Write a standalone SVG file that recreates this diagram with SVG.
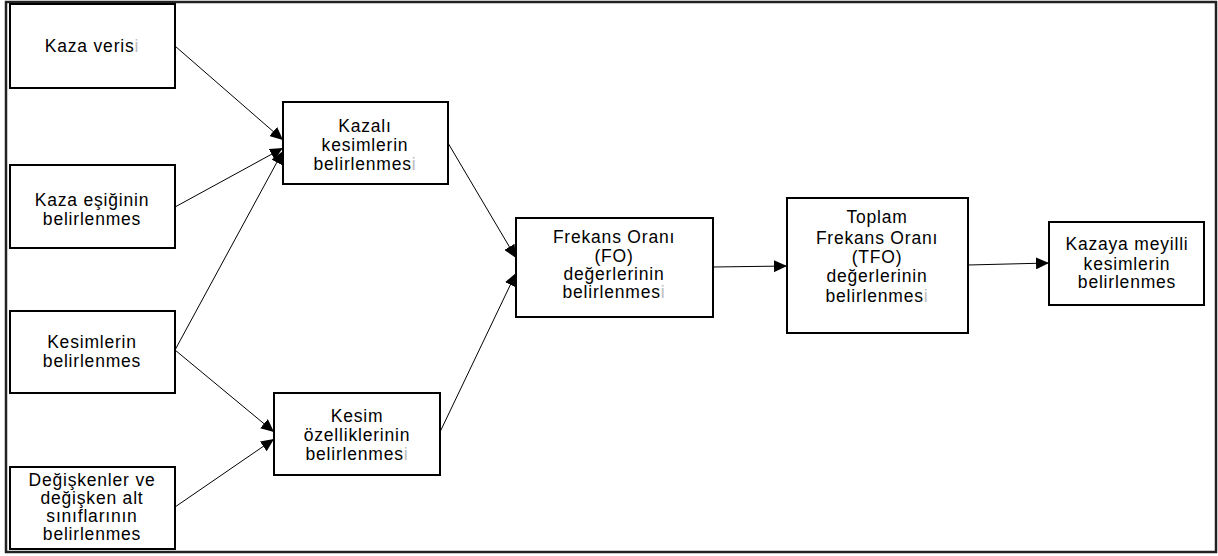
<svg xmlns="http://www.w3.org/2000/svg" width="1218" height="556" viewBox="0 0 1218 556">
<style>
.box{fill:#fff;stroke:#000;stroke-width:2}
.t{font-family:"Liberation Sans",Arial,sans-serif;font-size:17.5px;letter-spacing:0.8px;fill:#000;text-anchor:middle}
.g{fill:#bdbdbd}
.c{stroke:#000;stroke-width:1;fill:none;marker-end:url(#ah)}
</style>
<defs>
<marker id="ah" markerUnits="userSpaceOnUse" markerWidth="14" markerHeight="12" refX="13" refY="6" orient="auto">
<path d="M0,0 L13,6 L0,12 Z" fill="#000"/>
</marker>
</defs>
<rect x="1" y="0" width="1217" height="556" fill="#fff"/>
<rect x="6" y="2" width="1210" height="550" fill="none" stroke="#222" stroke-width="2.5"/>
<g id="connectors">
<line class="c" x1="175" y1="46" x2="283" y2="140"/>
<line class="c" x1="175" y1="207" x2="283" y2="148"/>
<line class="c" x1="175" y1="350" x2="283" y2="151"/>
<line class="c" x1="175" y1="350" x2="274" y2="432"/>
<line class="c" x1="175" y1="507" x2="274" y2="439"/>
<line class="c" x1="448" y1="143" x2="516" y2="258"/>
<line class="c" x1="440" y1="432" x2="516" y2="273"/>
<line class="c" x1="713" y1="267" x2="787" y2="266"/>
<line class="c" x1="968" y1="265" x2="1049" y2="263"/>
</g>
<g id="n1"><rect class="box" x="10" y="4" width="165" height="84"/>
<text class="t" x="92" y="52">Kaza veris<tspan class="g">i</tspan></text></g>
<g id="n2"><rect class="box" x="10" y="165" width="165" height="83"/>
<text class="t" x="92" y="206">Kaza eşiğinin</text><text class="t" x="92" y="225">belirlenmes</text></g>
<g id="n3"><rect class="box" x="10" y="311" width="165" height="82"/>
<text class="t" x="92" y="348">Kesimlerin</text><text class="t" x="92" y="367">belirlenmes</text></g>
<g id="n4"><rect class="box" x="10" y="467" width="165" height="82"/>
<text class="t" x="92" y="486">Değişkenler ve</text><text class="t" x="92" y="504">değişken alt</text><text class="t" x="92" y="522">sınıflarının</text><text class="t" x="92" y="540">belirlenmes</text></g>
<g id="n5"><rect class="box" x="283" y="102" width="165" height="82"/>
<text class="t" x="365" y="132">Kazalı</text><text class="t" x="365" y="151">kesimlerin</text><text class="t" x="365" y="170">belirlenmes<tspan class="g">i</tspan></text></g>
<g id="n6"><rect class="box" x="274" y="393" width="166" height="82"/>
<text class="t" x="357" y="422">Kesim</text><text class="t" x="357" y="441">özelliklerinin</text><text class="t" x="357" y="460">belirlenmes<tspan class="g">i</tspan></text></g>
<g id="n7"><rect class="box" x="516" y="218" width="197" height="99"/>
<text class="t" x="614" y="243">Frekans Oranı</text><text class="t" x="614" y="262">(FO)</text><text class="t" x="614" y="280">değerlerinin</text><text class="t" x="614" y="298">belirlenmes<tspan class="g">i</tspan></text></g>
<g id="n8"><rect class="box" x="787" y="198" width="181" height="135"/>
<text class="t" x="877" y="223">Toplam</text><text class="t" x="877" y="244">Frekans Oranı</text><text class="t" x="877" y="263">(TFO)</text><text class="t" x="877" y="282">değerlerinin</text><text class="t" x="877" y="302">belirlenmes<tspan class="g">i</tspan></text></g>
<g id="n9"><rect class="box" x="1049" y="222" width="155" height="83"/>
<text class="t" x="1127" y="250">Kazaya meyilli</text><text class="t" x="1127" y="270">kesimlerin</text><text class="t" x="1127" y="288">belirlenmes</text></g>
</svg>
